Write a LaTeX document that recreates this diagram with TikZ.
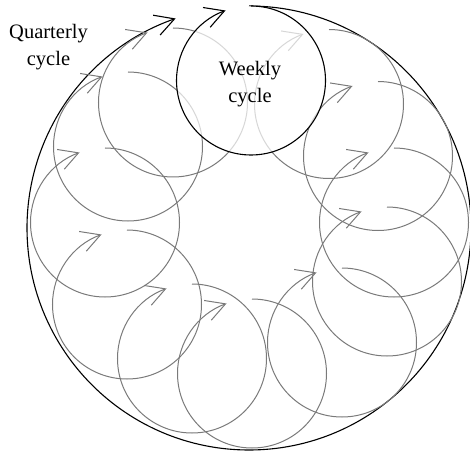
\documentclass[tikz,border=0pt]{standalone}
\usepackage{fontspec}
\setmainfont{Liberation Serif}
\usetikzlibrary{arrows.meta}
\tikzset{
  barb/.style={-{Straight Barb[length=19pt, width=21pt]}},
  quarter/.style={barb, draw=black, line width=1.1pt},
  week/.style={barb, draw=black!52, line width=1pt},
  lab/.style={font=\fontsize{20.5}{27.5}\selectfont, align=center, inner sep=0pt},
}
\begin{document}
\begin{tikzpicture}[x=1pt, y=1pt]
  \useasboundingbox (-249,-224) rectangle (221,228);
  % quarterly cycle
  \draw[quarter] (90:222) arc[start angle=90, end angle=-250.7, radius=222];
  % the other weeks
  \foreach \cx/\cy in {80/124, 129/72, 145/5.5, 138/-53.5, 93/-114.5, 3/-145.5,
                       -57/-130.5, -122/-76.5, -144/5.5, -121/81.5, -76/125.5} {
    \draw[week] (\cx,\cy) ++(0,74.5) arc[start angle=90, end angle=-250, radius=74.5];
  }
  % current week
  \fill[white, opacity=0.7] (2,147.5) circle (74.5);
  \draw[quarter] (2,222) arc[start angle=90, end angle=-250, radius=74.5];
  \node[lab] (weekly) at (1,144) {Weekly\\cycle};
  \node[lab] (quarterly) at (-200.5,181) {Quarterly\\cycle};
\end{tikzpicture}
\end{document}
